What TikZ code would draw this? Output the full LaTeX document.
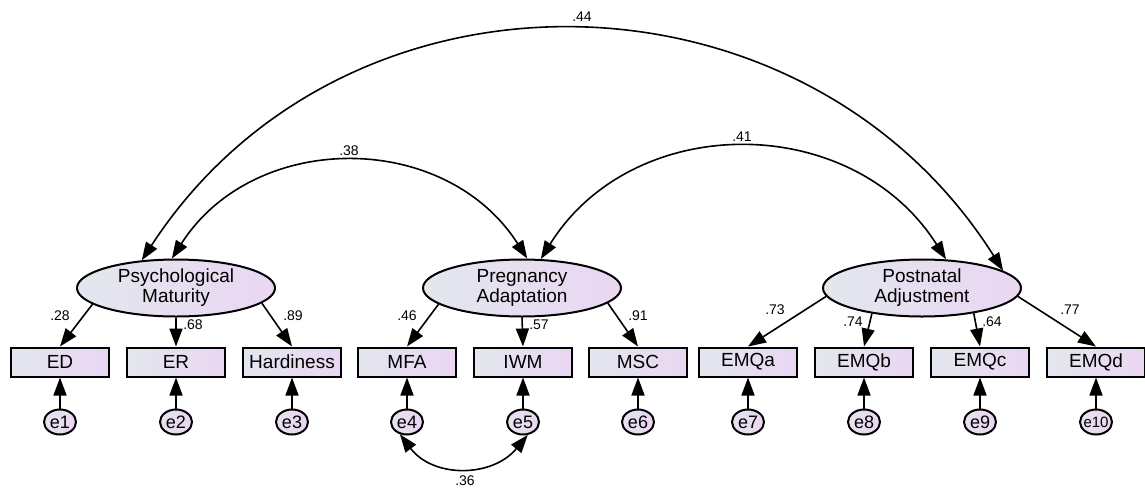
\documentclass[tikz,border=0pt]{standalone}
\usepackage{fontspec}
\setmainfont{Liberation Sans}
\usetikzlibrary{arrows.meta,shapes.geometric}
\definecolor{gL}{HTML}{E3E7EE}
\definecolor{gR}{HTML}{EAD6F2}
\definecolor{eL}{HTML}{E6E2EF}
\definecolor{eR}{HTML}{E9D5F2}
\begin{document}
\begin{tikzpicture}[x=1pt,y=-1pt,
  latent/.style={ellipse, draw, line width=2pt, left color=gL, right color=gR,
    minimum width=198pt, minimum height=57pt, inner sep=0pt, align=center,
    font=\fontsize{19}{20}\selectfont},
  obs/.style={rectangle, draw, line width=2pt, left color=gL, right color=gR,
    minimum width=98pt, minimum height=29pt, inner sep=0pt,
    font=\fontsize{19}{20}\selectfont},
  err/.style={ellipse, draw, line width=2pt, left color=eL, right color=eR,
    minimum width=32pt, minimum height=25pt, inner sep=-3pt,
    font=\fontsize{18}{18}\selectfont},
  lab/.style={inner sep=0pt, font=\fontsize{14}{14}\selectfont},
  path/.style={-{Triangle[length=18pt,width=13pt]}, line width=1.6pt},
  cov/.style={{Triangle[length=18pt,width=13pt]}-{Triangle[length=18pt,width=13pt]}, line width=1.6pt}
]
\useasboundingbox (0,0) rectangle (1145,491);

% latent variables
\node[latent] (PM) at (176,288) {Psychological\\Maturity};
\node[latent] (PA) at (522,288) {Pregnancy\\Adaptation};
\node[latent] (PNA) at (922,288) {Postnatal\\Adjustment};

% observed variables
\node[obs] (ED) at (60,362) {ED};
\node[obs] (ER) at (176,362) {ER};
\node[obs] (HA) at (292,362) {Hardiness};
\node[obs] (MFA) at (407,362) {MFA};
\node[obs] (IWM) at (523,362) {IWM};
\node[obs] (MSC) at (638,362) {MSC};
\node[obs] (EA) at (748,362) {EMQa};
\node[obs] (EB) at (864,362) {EMQb};
\node[obs] (EC) at (980,362) {EMQc};
\node[obs] (EDd) at (1096,362) {EMQd};

% errors
\node[err] (e1) at (60,422) {e1};
\node[err] (e2) at (176,422) {e2};
\node[err] (e3) at (292,422) {e3};
\node[err] (e4) at (407,422) {e4};
\node[err] (e5) at (523,422) {e5};
\node[err] (e6) at (638,422) {e6};
\node[err] (e7) at (748,422) {e7};
\node[err] (e8) at (864,422) {e8};
\node[err] (e9) at (980,422) {e9};
\node[err, font=\fontsize{15}{15}\selectfont] (e10) at (1096,422) {e10};

% loadings
\draw[path] (PM.191) -- (ED.north);
\draw[path] (PM.south) -- (ER.north);
\draw[path] (PM.350) -- (HA.north);
\draw[path] (PA.191) -- (MFA.north);
\draw[path] (PA.south) -- (IWM.north);
\draw[path] (PA.350) -- (MSC.north);
\draw[path] (PNA.185) -- (EA.north);
\draw[path] (PNA.207) -- (EB.north);
\draw[path] (PNA.334) -- (EC.north);
\draw[path] (PNA.355) -- (EDd.north);

% error paths
\foreach \e/\o in {e1/ED,e2/ER,e3/HA,e4/MFA,e5/IWM,e6/MSC,e7/EA,e8/EB,e9/EC,e10/EDd}
  \draw[path] (\e.north) -- (\o.south);

% covariances
\draw[cov] (PM.141) .. controls (346,-53) and (805,-43) .. (PNA.12);
\draw[cov] (PM.98) .. controls (254,130) and (445,130) .. (PA.80);
\draw[cov] (PA.57) .. controls (633,111) and (852,111) .. (PNA.50);
\draw[cov] (e4.240) .. controls (433,478) and (492,478) .. (e5.290);

% labels
\node[lab] (l28) at (60,316) {.28};
\node[lab] (l68) at (193,325) {.68};
\node[lab] (l89) at (293,316) {.89};
\node[lab] (l46) at (407,316) {.46};
\node[lab] (l57) at (539,325) {.57};
\node[lab] (l91) at (638,316) {.91};
\node[lab] (l73) at (775,310) {.73};
\node[lab] (l74) at (853,322) {.74};
\node[lab] (l64) at (992,322) {.64};
\node[lab] (l77) at (1070,310) {.77};
\node[lab] (l36) at (465,481) {.36};
\node[lab] (l38) at (349,151) {.38};
\node[lab] (l41) at (742,137) {.41};
\node[lab] (l44) at (582,17) {.44};
\end{tikzpicture}
\end{document}
